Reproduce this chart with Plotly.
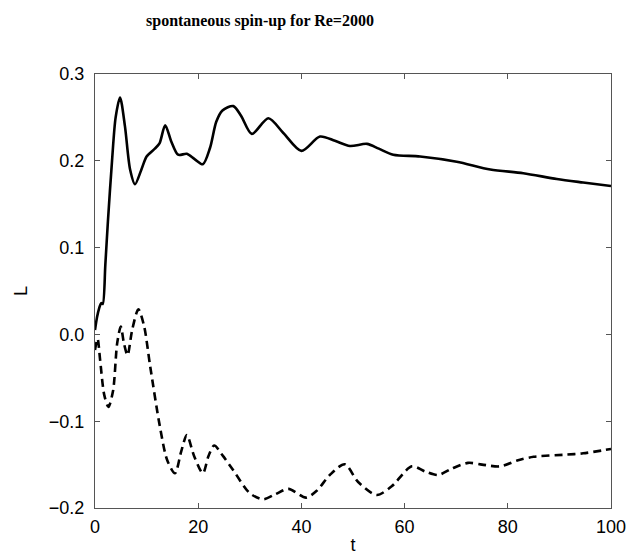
import plotly.graph_objects as go

# solid curve
t_solid = [0, 0.4, 0.8, 1.2, 1.5, 2.0, 2.5, 3.3, 4.0, 4.85, 5.8, 6.8, 7.75, 9, 10, 11.6, 12.5,
           13.6, 14.8, 16.1, 17.8, 19.3, 20.9, 22.3, 23.5, 24.7, 26.8, 28.3, 30.4, 33.6, 36.5,
           40, 43.6, 46.5, 49.4, 52.7, 55, 57.8, 63, 70.1, 76.6, 83, 89.5, 94.6, 100]
L_solid = [0.005, 0.02, 0.03, 0.036, 0.035, 0.08, 0.13, 0.2, 0.25, 0.273, 0.24, 0.19, 0.173,
           0.19, 0.205, 0.214, 0.22, 0.241, 0.222, 0.207, 0.208, 0.202, 0.196, 0.215, 0.245,
           0.258, 0.263, 0.252, 0.231, 0.249, 0.232, 0.2114, 0.228, 0.223, 0.217, 0.2195,
           0.214, 0.207, 0.205, 0.199, 0.190, 0.1857, 0.179, 0.175, 0.171]

# dashed curve
t_dash = [0, 0.5, 1, 1.8, 2.6, 3.5, 4.3, 5.0, 5.6, 6.3, 7.2, 8.4, 9.5, 10.7, 12.6, 14, 15.5,
          16.7, 17.8, 19.2, 20.9, 22, 23.1, 24.8, 26.8, 30, 32.6, 35, 37.5, 40.9, 43, 45.5,
          48.4, 51, 54.6, 57.5, 61.4, 64, 66.5, 69, 72.3, 75, 78.5, 82, 85, 91.4, 94.6, 100]
L_dash = [-0.018, -0.005, -0.03, -0.07, -0.0835, -0.065, -0.01, 0.009, -0.01, -0.024, 0.005,
          0.029, 0.01, -0.037, -0.107, -0.145, -0.160, -0.135, -0.116, -0.14, -0.160, -0.14,
          -0.128, -0.14, -0.1565, -0.183, -0.190, -0.184, -0.178, -0.188, -0.18, -0.162,
          -0.1496, -0.17, -0.185, -0.175, -0.152, -0.158, -0.162, -0.155, -0.148, -0.15,
          -0.152, -0.145, -0.141, -0.1385, -0.137, -0.132]

x_ticks = [0, 20, 40, 60, 80, 100]
y_ticks = [-0.2, -0.1, 0.0, 0.1, 0.2, 0.3]
y_ticktext = ["\u22120.2", "\u22120.1", "0.0", "0.1", "0.2", "0.3"]

fig = go.Figure()
fig.add_trace(go.Scatter(x=t_solid, y=L_solid, mode="lines",
                         line=dict(color="black", width=2.6, shape="spline", smoothing=0.8),
                         showlegend=False))
fig.add_trace(go.Scatter(x=t_dash, y=L_dash, mode="lines",
                         line=dict(color="black", width=2.6, shape="spline", smoothing=0.8,
                                   dash="8px,5px"),
                         showlegend=False))

axis_common = dict(showline=True, linecolor="#555555", linewidth=1, mirror="ticks",
                   ticks="inside", ticklen=5, tickcolor="#555555", showgrid=False,
                   zeroline=False, automargin=False,
                   tickfont=dict(family="Liberation Sans", size=18, color="black"))

fig.update_layout(
    width=637, height=555,
    margin=dict(l=95, r=26, t=74, b=47),
    paper_bgcolor="white", plot_bgcolor="white",
    title=dict(text="<b>spontaneous spin-up for Re=2000</b>",
               font=dict(family="Liberation Serif", size=16, color="black"),
               x=260 / 637, xanchor="center", xref="container",
               y=1 - 20 / 555, yanchor="middle", yref="container"),
    xaxis=dict(range=[0, 100], tickvals=x_ticks, ticktext=[str(v) for v in x_ticks],
               ticklabelstandoff=2,
               title=dict(text="t", font=dict(family="Liberation Sans", size=18, color="black"),
                          standoff=6),
               **axis_common),
    yaxis=dict(range=[-0.2, 0.3], tickvals=y_ticks, ticktext=y_ticktext,
               ticklabelstandoff=6,
               title=dict(text="L", font=dict(family="Liberation Sans", size=18, color="black"),
                          standoff=16),
               **axis_common),
)

fig.write_html("out.html")
